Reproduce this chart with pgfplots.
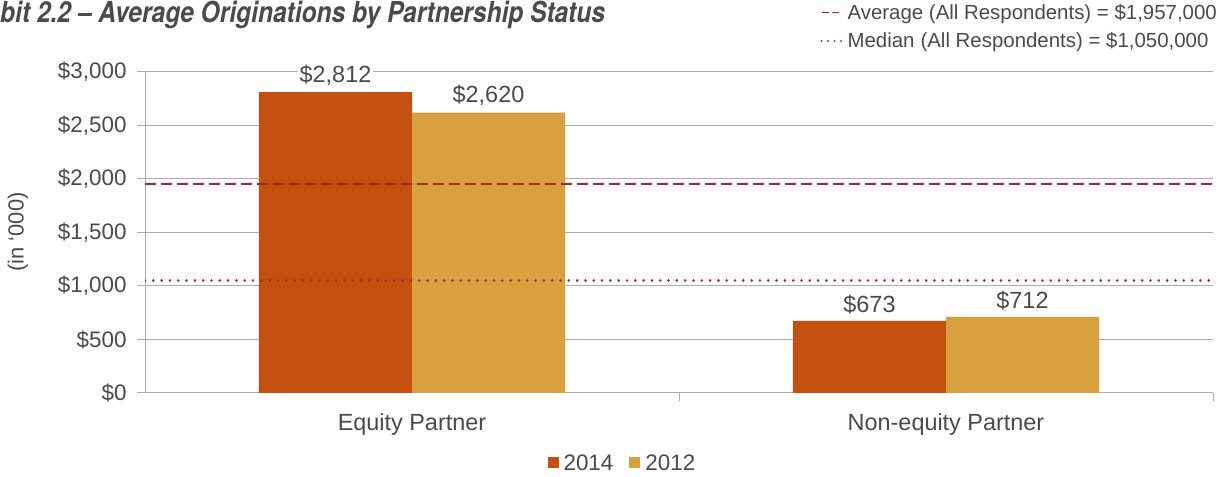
\documentclass[border=0pt]{standalone}
\usepackage{fontspec}
\setmainfont{Liberation Sans}
\newfontfamily\titlefont[FakeStretch=0.85]{TeX Gyre Heros}
\usepackage{pgfplots}
\pgfplotsset{compat=1.18}
\definecolor{c14}{HTML}{C4500F}
\definecolor{c12}{HTML}{D9A03F}
\definecolor{txt}{HTML}{4A4A4A}
\definecolor{gridc}{HTML}{ADADAD}
\definecolor{avgc}{HTML}{A8222C}
\definecolor{medc}{HTML}{B01C2C}
\begin{document}
\begin{tikzpicture}
\path[use as bounding box] (0,0) rectangle (1221bp,477bp);
\begin{axis}[
  at={(145bp,84bp)}, anchor=south west, scale only axis,
  width=1068bp, height=321bp,
  xmin=-0.5, xmax=1.5, ymin=0, ymax=3000,
  /pgf/number format/assume math mode=true,
  axis x line=bottom, axis y line=left,
  axis line style={gridc, line width=1bp, -},
  ytick={0,500,...,3000}, ymajorgrids,
  grid style={gridc, line width=1bp},
  yticklabel={\$\pgfmathprintnumber[1000 sep={,}]{\tick}},
  yticklabel style={font=\fontsize{22.5}{26}\selectfont, text=txt, xshift=-7bp},
  xtick={0,1}, xticklabels={Equity Partner, Non-equity Partner},
  xticklabel style={font=\fontsize{23.5}{27}\selectfont, text=txt, yshift=-9bp},
  major x tick style={draw=none},
  minor xtick={0.5,1.5},
  tick align=outside, major tick length=8bp, minor tick length=8bp,
  tick style={gridc, line width=1bp},
  ybar=0pt, bar width=153bp,
  nodes near coords={\$\pgfmathprintnumber[1000 sep={,}]{\pgfplotspointmeta}},
  nodes near coords style={fill=white, inner sep=2bp, font=\fontsize{23.5}{27}\selectfont, text=txt, yshift=4.5bp},
  legend style={at={(0.447,-0.218)}, anchor=center, draw=none,
    font=\fontsize{22.5}{26}\selectfont, text=txt, legend columns=2,
    /tikz/every even column/.append style={column sep=14bp},
    inner sep=0pt},
  legend image code/.code={\fill[#1] (0bp,-5.5bp) rectangle (11bp,5.5bp);},
]
\addplot[fill=c14, draw=none] coordinates {(0,2812) (1,673)};
\addplot[fill=c12, draw=none] coordinates {(0,2620) (1,712)};
\legend{\hspace{3bp}2014,\hspace{3bp}2012}
\end{axis}
\begin{axis}[
  at={(145bp,84bp)}, anchor=south west, scale only axis,
  width=1068bp, height=321bp,
  xmin=-0.5, xmax=1.5, ymin=0, ymax=3000,
  hide axis,
]
\addplot[color=avgc, line width=2bp, dash pattern=on 11bp off 5bp] coordinates {(-0.5,1957) (1.5,1957)};
\addplot[color=medc, line width=2.7bp, line cap=round, dash pattern=on 0.01bp off 8.3bp] coordinates {(-0.5,1050) (1.5,1050)};
\end{axis}
\begin{axis}[
  at={(1219bp,475bp)}, anchor=north east, scale only axis,
  width=1bp, height=1bp, hide axis, xmin=0, xmax=1, ymin=0, ymax=1,
  legend style={at={(1,1)}, anchor=north east, draw=none, fill=none,
    font=\fontsize{20.5}{24}\selectfont, text=txt, inner sep=0pt,
    row sep=8bp, /tikz/every odd column/.append style={column sep=3bp}},
  legend cell align=left,
  legend image code/.code={\draw[#1] (0bp,0bp) -- (20bp,0bp);},
]
\addlegendimage{color=avgc, line width=1.2bp, dash pattern=on 7bp off 3bp}
\addlegendentry{Average (All Respondents) = \$1,957,000}
\addlegendimage{color=medc, line width=2.2bp, line cap=round, dash pattern=on 0.01bp off 6.5bp}
\addlegendentry{Median\hspace{6bp}(All Respondents) = \$1,050,000}
\end{axis}
\node[anchor=base west, inner sep=0pt, text=txt] at (0bp,454bp) {\titlefont\fontsize{29}{33}\selectfont\bfseries\itshape bit 2.2 – Average Originations by Partnership Status};
\node[rotate=90, text=txt, font=\fontsize{22}{26}\selectfont] at (18bp,245bp) {(in ‘000)};
\end{tikzpicture}
\end{document}
